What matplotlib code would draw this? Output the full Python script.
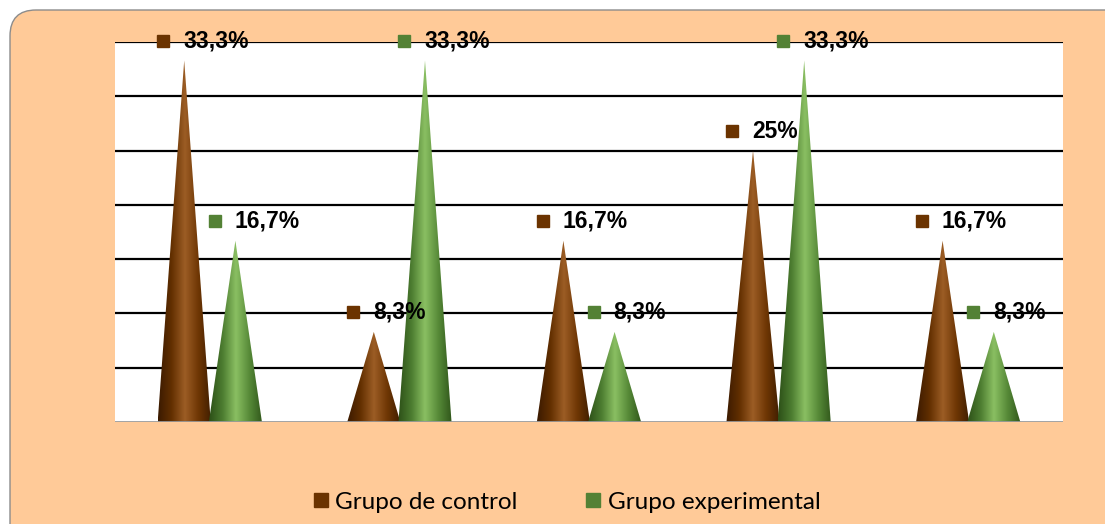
import numpy as np
import matplotlib.pyplot as plt
from matplotlib.patches import Polygon, FancyBboxPatch
from matplotlib.lines import Line2D
from matplotlib.colors import LinearSegmentedColormap

# porcentajes por grupo
categorias = ['1', '2', '3', '4', '5']
control = [33.3, 8.3, 16.7, 25, 16.7]
experimental = [16.7, 33.3, 8.3, 33.3, 8.3]
etiquetas_control = ['33,3%', '8,3%', '16,7%', '25%', '16,7%']
etiquetas_experimental = ['16,7%', '33,3%', '8,3%', '33,3%', '8,3%']

color_control = '#6b3300'
color_exp = '#538135'

# degradado horizontal para simular conos 3D
cmap_control = LinearSegmentedColormap.from_list(
    'cc', ['#3a1a00', '#622f00', '#9c5d25', '#6e3604', '#3f1d00'])
cmap_exp = LinearSegmentedColormap.from_list(
    'ce', ['#2c4f17', '#4c7c30', '#8abf62', '#578a38', '#2f561a'])

W, H = 1105, 524
fig = plt.figure(figsize=(W / 100, H / 100), dpi=100)
fig.patch.set_facecolor('white')

# fondo redondeado (coordenadas en píxeles)
fondo = FancyBboxPatch((10, -30), W + 40, H - 10 + 30,
                       boxstyle='round,pad=0,rounding_size=26',
                       transform=None, facecolor='#ffca98',
                       edgecolor='#8c8c8c', linewidth=1.0, zorder=-10)
fig.patches.append(fondo)

ax = fig.add_axes([115 / W, 102 / H, 948 / W, 380 / H])
ax.set_facecolor('white')
ax.set_xlim(0, 5)
ax.set_ylim(0, 35)

for y in np.arange(5, 36, 5):
    ax.axhline(y, color='black', lw=1.6, zorder=1)
ax.axhline(0, color='#9a9a9a', lw=2.0, zorder=5)

ancho = 0.28
grad = np.linspace(0, 1, 256).reshape(1, -1)


def cono(x, valor, cmap):
    tri = Polygon([(x - ancho / 2, 0), (x + ancho / 2, 0), (x, valor)],
                  closed=True, facecolor='none', edgecolor='none')
    ax.add_patch(tri)
    im = ax.imshow(grad, cmap=cmap, aspect='auto', zorder=3,
                   extent=(x - ancho / 2, x + ancho / 2, 0, valor))
    im.set_clip_path(tri)


for i in range(len(categorias)):
    xc = i + 0.5 - ancho / 2 + 0.005
    xe = i + 0.5 + ancho / 2 - 0.005
    cono(xc, control[i], cmap_control)
    cono(xe, experimental[i], cmap_exp)
    for x, v, txt, col in [(xc, control[i], etiquetas_control[i], color_control),
                           (xe, experimental[i], etiquetas_experimental[i], color_exp)]:
        ax.plot(x - 0.11, v + 1.8, marker='s', ms=9, color=col, zorder=6,
                clip_on=False, linestyle='none')
        ax.text(x - 0.005, v + 1.8, txt, fontsize=16.5, fontweight='bold',
                family='Liberation Sans', va='center', ha='left', zorder=6,
                clip_on=False)

ax.set_xticks([])
ax.set_yticks([])
for s in ax.spines.values():
    s.set_visible(False)

handles = [Line2D([], [], marker='s', ls='none', ms=10.5, color=color_control),
           Line2D([], [], marker='s', ls='none', ms=10.5, color=color_exp)]
fig.legend(handles, ['Grupo de control', 'Grupo experimental'],
           loc='center', bbox_to_anchor=(567 / W, 1 - 502 / H), ncol=2,
           frameon=False, prop={'family': 'Lato', 'size': 17.5},
           handlelength=0.6, handletextpad=0.3, columnspacing=2.8)

fig.savefig('out.png', dpi=100)
